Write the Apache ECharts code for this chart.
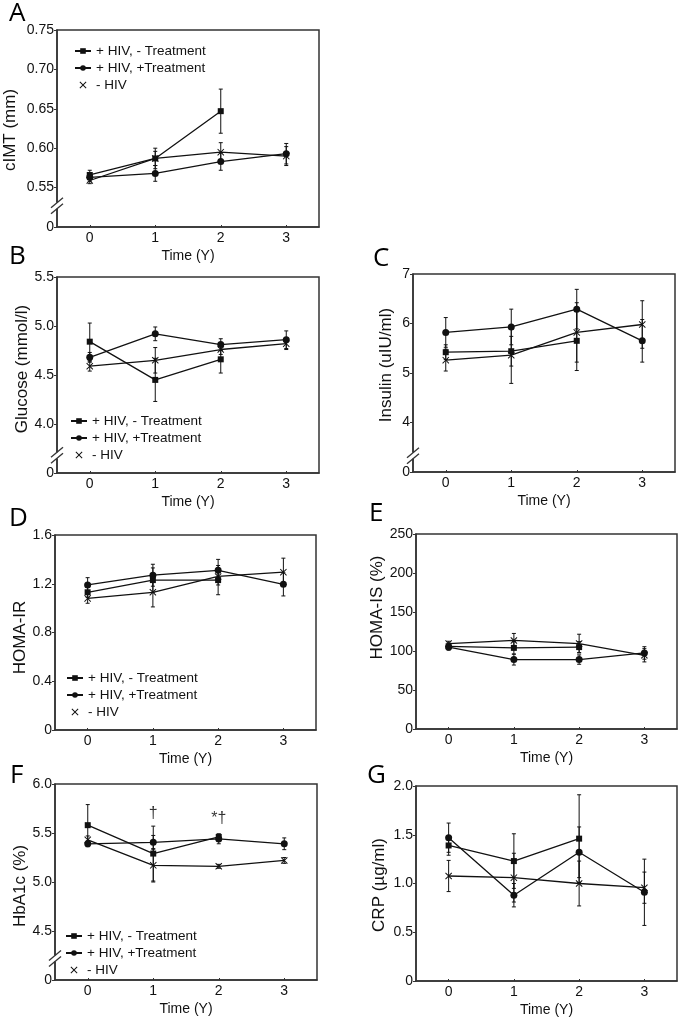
<!DOCTYPE html>
<html><head><meta charset="utf-8">
<script src="https://cdn.jsdelivr.net/npm/echarts@6/dist/echarts.min.js"></script>
<style>html,body{margin:0;padding:0;background:#fff}#c{width:679px;height:1020px}</style>
</head><body><div id="c"></div>
<script>
// ---------- data ----------
const timeLabels = ['0', '1', '2', '3'];
const groupNames = ['+ HIV, - Treatment', '+ HIV, +Treatment', '- HIV'];

// A: cIMT (mm)
const cimtNoTx = [0.566, 0.587, 0.647, null];
const cimtNoTxErr = [0.006, 0.013, 0.028, null];
const cimtTx = [0.563, 0.568, 0.583, 0.593];
const cimtTxErr = [0.005, 0.010, 0.011, 0.013];
const cimtNeg = [0.559, 0.587, 0.595, 0.590];
const cimtNegErr = [0.004, 0.009, 0.012, 0.012];
const cimtTicks = ['0', '0.55', '0.60', '0.65', '0.70', '0.75'];

// B: Glucose (mmol/l)
const gluNoTx = [4.84, 4.45, 4.66, null];
const gluNoTxErr = [0.19, 0.22, 0.14, null];
const gluTx = [4.68, 4.92, 4.81, 4.86];
const gluTxErr = [0.05, 0.07, 0.06, 0.09];
const gluNeg = [4.59, 4.65, 4.76, 4.82];
const gluNegErr = [0.05, 0.13, 0.05, 0.06];
const gluTicks = ['0', '4.0', '4.5', '5.0', '5.5'];

// C: Insulin (uIU/ml)
const insNoTx = [5.42, 5.44, 5.65, null];
const insNoTxErr = [0.15, 0.30, 0.60, null];
const insTx = [5.82, 5.93, 6.29, 5.65];
const insTxErr = [0.30, 0.36, 0.40, 0.43];
const insNeg = [5.26, 5.36, 5.82, 5.98];
const insNegErr = [0.22, 0.57, 0.60, 0.48];
const insTicks = ['0', '4', '5', '6', '7'];

// D: HOMA-IR
const homaIrNoTx = [1.13, 1.23, 1.23, null];
const homaIrNoTxErr = [0.04, 0.10, 0.12, null];
const homaIrTx = [1.19, 1.27, 1.31, 1.195];
const homaIrTxErr = [0.06, 0.09, 0.09, 0.095];
const homaIrNeg = [1.08, 1.13, 1.26, 1.295];
const homaIrNegErr = [0.04, 0.12, 0.07, 0.115];
const homaIrTicks = ['0', '0.4', '0.8', '1.2', '1.6'];

// E: HOMA-IS (%)
const homaIsNoTx = [106, 104, 105, null];
const homaIsNoTxErr = [4, 8, 7, null];
const homaIsTx = [105, 89, 89, 97.5];
const homaIsTxErr = [4, 7, 6, 8];
const homaIsNeg = [109.5, 113.5, 109.5, 94.5];
const homaIsNegErr = [3, 9, 12, 8.5];
const homaIsTicks = ['0', '50', '100', '150', '200', '250'];

// F: HbA1c (%)
const hba1cNoTx = [5.58, 5.29, 5.46, null];
const hba1cNoTxErr = [0.21, 0.28, 0.03, null];
const hba1cTx = [5.39, 5.405, 5.44, 5.39];
const hba1cTxErr = [0.03, 0.07, 0.05, 0.06];
const hba1cNeg = [5.43, 5.17, 5.16, 5.22];
const hba1cNegErr = [0.04, 0.17, 0.02, 0.03];
const hba1cTicks = ['0', '4.5', '5.0', '5.5', '6.0'];
const hba1cNotes = ['†', '*†'];
const hba1cNoteX = [1, 2];
const hba1cNoteY = [5.70, 5.645];

// G: CRP (µg/ml)
const crpNoTx = [1.39, 1.23, 1.46, null];
const crpNoTxErr = [0.10, 0.28, 0.45, null];
const crpTx = [1.47, 0.88, 1.32, 0.91];
const crpTxErr = [0.15, 0.12, 0.26, 0.34];
const crpNeg = [1.077, 1.06, 1.00, 0.957];
const crpNegErr = [0.16, 0.25, 0.23, 0.16];
const crpTicks = ['0', '0.5', '1.0', '1.5', '2.0'];

// ---------- layout ----------
const panels = [
  {letter:'A', yName:'cIMT (mm)', vals:[cimtNoTx,cimtTx,cimtNeg], errs:[cimtNoTxErr,cimtTxErr,cimtNegErr], ticks:cimtTicks,
   grid:{left:57,top:30,width:262,height:197}, y:{min:0.5,max:0.75,interval:0.05}, brk:0.527, nameGap:38, namePad:[0,3,0,0], legend:{left:74,top:44}, lp:[9,1]},
  {letter:'B', yName:'Glucose (mmol/l)', vals:[gluNoTx,gluTx,gluNeg], errs:[gluNoTxErr,gluTxErr,gluNegErr], ticks:gluTicks,
   grid:{left:57,top:277,width:262,height:196}, y:{min:3.5,max:5.5,interval:0.5}, brk:3.68, nameGap:24, namePad:[0,0,0,12], legend:{left:70,top:414}, lp:[9,244]},
  {letter:'C', yName:'Insulin (uIU/ml)', vals:[insNoTx,insTx,insNeg], errs:[insNoTxErr,insTxErr,insNegErr], ticks:insTicks,
   grid:{left:413,top:274,width:262,height:198}, y:{min:3,max:7,interval:1}, brk:3.33, nameGap:18, namePad:[0,0,0,16], legend:null, lp:[373,246]},
  {letter:'D', yName:'HOMA-IR', vals:[homaIrNoTx,homaIrTx,homaIrNeg], errs:[homaIrNoTxErr,homaIrTxErr,homaIrNegErr], ticks:homaIrTicks,
   grid:{left:55,top:535,width:261,height:195}, y:{min:0,max:1.6,interval:0.4}, brk:null, nameGap:26, namePad:[0,10,0,0], legend:{left:66,top:671}, lp:[9,506]},
  {letter:'E', yName:'HOMA-IS (%)', vals:[homaIsNoTx,homaIsTx,homaIsNeg], errs:[homaIsNoTxErr,homaIsTxErr,homaIsNegErr], ticks:homaIsTicks,
   grid:{left:416,top:534,width:261,height:195}, y:{min:0,max:250,interval:50}, brk:null, nameGap:25, namePad:[0,0,0,48], legend:null, lp:[369,501]},
  {letter:'F', yName:'HbA1c (%)', vals:[hba1cNoTx,hba1cTx,hba1cNeg], errs:[hba1cNoTxErr,hba1cTxErr,hba1cNegErr], ticks:hba1cTicks,
   grid:{left:55,top:784,width:262,height:196}, y:{min:4,max:6,interval:0.5}, brk:4.22, nameGap:25, namePad:[0,8,0,0], legend:{left:65,top:929}, lp:[10,763]},
  {letter:'G', yName:'CRP (µg/ml)', vals:[crpNoTx,crpTx,crpNeg], errs:[crpNoTxErr,crpTxErr,crpNegErr], ticks:crpTicks,
   grid:{left:416,top:786,width:261,height:195}, y:{min:0,max:2,interval:0.5}, brk:null, nameGap:28, namePad:[0,3,0,0], legend:null, lp:[367,763]}
];

const FONT = '"Liberation Sans", Arial, sans-serif';
const AXC = '#333';
const xPath = 'path://M0,1L1,0L5,4L9,0L10,1L6,5L10,9L9,10L5,6L1,10L0,9L4,5Z';
const symbols = ['rect', 'circle', xPath];
const symSizes = [6, 7, 7];

const grids = [], xAxes = [], yAxes = [], series = [], legends = [], graphics = [];

function errRender(params, api) {
  const x = api.value(0), lo = api.value(1), hi = api.value(2);
  const pHi = api.coord([x, hi]), pLo = api.coord([x, lo]);
  const cw = 2;
  const st = {stroke:'#111', lineWidth:1};
  return {type:'group', children:[
    {type:'line', shape:{x1:pHi[0], y1:pHi[1], x2:pLo[0], y2:pLo[1]}, style:st},
    {type:'line', shape:{x1:pHi[0]-cw, y1:pHi[1], x2:pHi[0]+cw, y2:pHi[1]}, style:st},
    {type:'line', shape:{x1:pLo[0]-cw, y1:pLo[1], x2:pLo[0]+cw, y2:pLo[1]}, style:st}
  ]};
}

panels.forEach((p, i) => {
  grids.push(Object.assign({show:true, borderColor:AXC, borderWidth:1.5, backgroundColor:'transparent', containLabel:false, outerBoundsMode:'none'}, p.grid));
  xAxes.push({type:'category', gridIndex:i, data:timeLabels, boundaryGap:true,
    name:'Time (Y)', nameLocation:'middle', nameGap:22,
    nameTextStyle:{fontFamily:FONT, fontSize:14, color:'#111'},
    axisLine:{show:true, lineStyle:{color:AXC, width:1.5}},
    axisTick:{show:true, inside:true, length:2, alignWithLabel:true, lineStyle:{color:AXC}},
    axisLabel:{fontFamily:FONT, fontSize:14, color:'#111', margin:4},
    splitLine:{show:false}});
  const mn = p.y.min, iv = p.y.interval, ticks = p.ticks;
  yAxes.push({type:'value', gridIndex:i, min:p.y.min, max:p.y.max, interval:p.y.interval,
    name:p.yName, nameLocation:'middle', nameGap:p.nameGap,
    nameTextStyle:{fontFamily:FONT, fontSize:17, color:'#111', padding:p.namePad},
    axisLine:{show:true, lineStyle:{color:AXC, width:1.5}},
    axisTick:{show:true, inside:false, length:3, lineStyle:{color:AXC}},
    axisLabel:{fontFamily:FONT, fontSize:14, color:'#111', margin:3,
      formatter: v => ticks[Math.round((v - mn) / iv)]},
    splitLine:{show:false}});
  for (let g = 0; g < 3; g++) {
    series.push({type:'line', name:groupNames[g], xAxisIndex:i, yAxisIndex:i, data:p.vals[g],
      symbol:symbols[g], symbolSize:symSizes[g], showAllSymbol:true,
      lineStyle:{color:'#111', width:1.3}, itemStyle:{color:'#111', borderWidth:0},
      silent:true, animation:false, z:3, emphasis:{disabled:true}});
    const errData = [];
    p.vals[g].forEach((v, k) => { if (v != null && p.errs[g][k] != null) errData.push([k, v - p.errs[g][k], v + p.errs[g][k]]); });
    series.push({type:'custom', xAxisIndex:i, yAxisIndex:i, data:errData, renderItem:errRender,
      encode:{x:0, y:[1,2]}, silent:true, animation:false, z:2});
  }
  if (p.legend) {
    legends.push({orient:'vertical', left:p.legend.left, top:p.legend.top, itemWidth:16, itemHeight:7, itemGap:3,
      selectedMode:false, padding:0,
      textStyle:{fontFamily:FONT, fontSize:13.5, color:'#111'},
      data:[{name:groupNames[0]}, {name:groupNames[1]}, {name:groupNames[2], icon:xPath, itemStyle:{color:'#111'}}]});
  }
  graphics.push({type:'text', left:p.lp[0], top:p.lp[1], style:{text:p.letter, font:'26px "Open Sans", sans-serif', fill:'#000'}, z:10});
});

// annotations in F
series.push({type:'scatter', xAxisIndex:5, yAxisIndex:5, symbolSize:0, silent:true, animation:false,
  data: hba1cNotes.map((t, k) => ({name:t, value:[hba1cNoteX[k], hba1cNoteY[k]]})),
  label:{show:true, position:'inside', formatter:d => d.name, fontFamily:FONT, fontSize:16, color:'#000'}});

const chart = echarts.init(document.getElementById('c'), null, {renderer:'canvas'});
chart.setOption({animation:false, backgroundColor:'#fff', grid:grids, xAxis:xAxes, yAxis:yAxes, legend:legends, series:series, graphic:graphics});

// axis break marks
const brkEls = [];
panels.forEach((p, i) => {
  if (p.brk == null) return;
  const pt = chart.convertToPixel({xAxisIndex:i, yAxisIndex:i}, [0, p.brk]);
  const x = p.grid.left, y = pt[1];
  brkEls.push({type:'rect', shape:{x:x-3, y:y-3, width:6, height:6}, style:{fill:'#fff'}, z:20});
  brkEls.push({type:'line', shape:{x1:x-6, y1:y+2, x2:x+6, y2:y-8}, style:{stroke:AXC, lineWidth:1.3}, z:21});
  brkEls.push({type:'line', shape:{x1:x-6, y1:y+8, x2:x+6, y2:y-2}, style:{stroke:AXC, lineWidth:1.3}, z:21});
});
chart.setOption({graphic: graphics.concat(brkEls)});
</script>
</body></html>
